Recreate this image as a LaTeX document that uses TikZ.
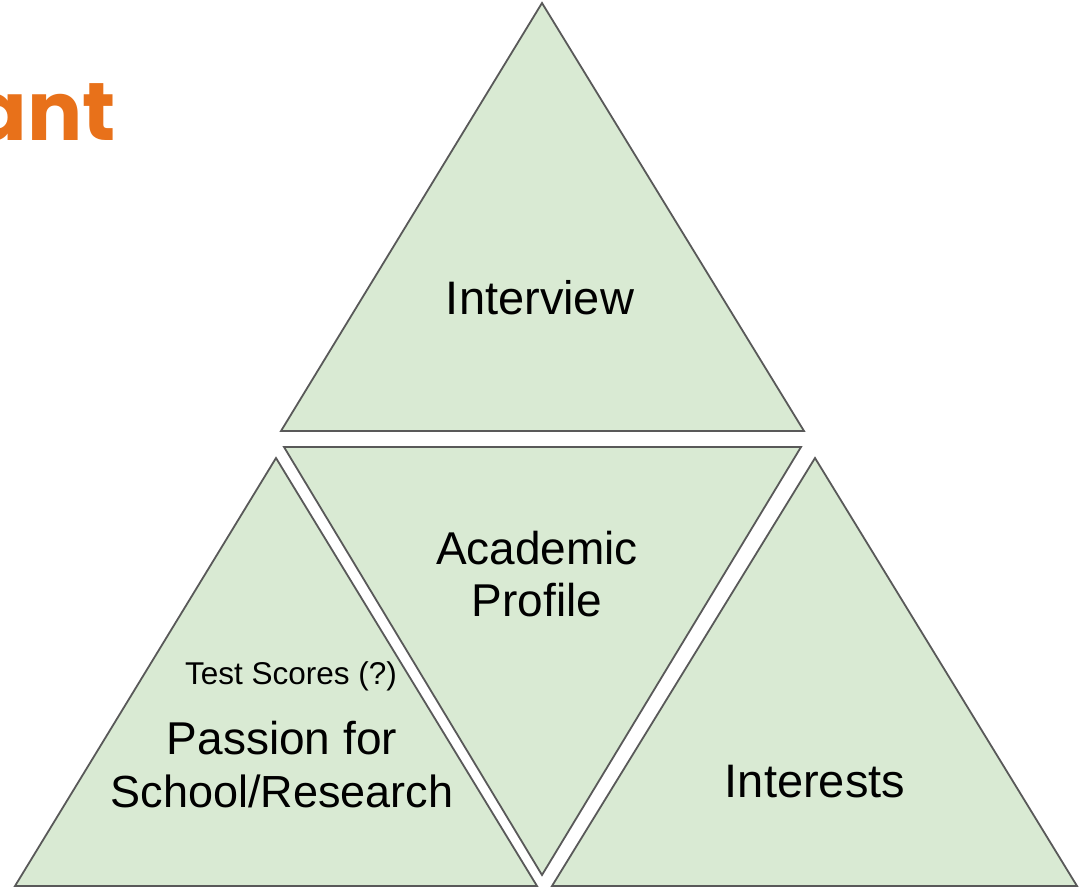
\documentclass[tikz,border=0pt]{standalone}
\usepackage{fontspec}
\setmainfont{Liberation Sans}
\newfontfamily\titlefont{Poppins}
\definecolor{triFill}{HTML}{D9EAD3}
\definecolor{triLine}{HTML}{595959}
\definecolor{titleOrange}{HTML}{E8711A}
\begin{document}
\begin{tikzpicture}[x=1pt,y=-1pt,
  tri/.style={fill=triFill,draw=triLine,line width=1.8pt,line join=miter},
  bigtext/.style={font=\fontsize{46}{53}\selectfont,align=center,inner sep=0pt,anchor=base},
  smalltext/.style={font=\fontsize{31.5}{36}\selectfont,inner sep=0pt,anchor=base}]
\clip (0,0) rectangle (1088,889);
\useasboundingbox (0,0) rectangle (1088,889);
% title fragment
\node[font=\titlefont\bfseries\fontsize{82}{90}\selectfont,text=titleOrange,
  anchor=base east,inner sep=0pt] (title) at (116,140) {ant};
% triangles
\coordinate (tA) at (542,3);   \coordinate (tL) at (281,431); \coordinate (tR) at (804,431);
\coordinate (mL) at (284,447); \coordinate (mR) at (801,447); \coordinate (mB) at (542,875);
\coordinate (lA) at (276,458); \coordinate (lL) at (15,886);  \coordinate (lR) at (537,886);
\coordinate (rA) at (815,458); \coordinate (rL) at (552,886); \coordinate (rR) at (1077,886);
\draw[tri] (tA) -- (tL) -- (tR) -- cycle;
\draw[tri] (mL) -- (mR) -- (mB) -- cycle;
\draw[tri] (lA) -- (lL) -- (lR) -- cycle;
\draw[tri] (rA) -- (rL) -- (rR) -- cycle;
% labels
\node[bigtext,font=\fontsize{47}{53}\selectfont] (interview) at (540,314) {Interview};
\node[bigtext] (academic) at (537,564) {Academic};
\node[bigtext] (profile) at (537,616) {Profile};
\node[smalltext] (test) at (291,684) {Test Scores (?)};
\node[bigtext] (passion) at (282,754) {Passion for};
\node[bigtext,font=\fontsize{45}{53}\selectfont] (school) at (282,807) {School/Research};
\node[bigtext,font=\fontsize{47}{53}\selectfont] (interests) at (815,797) {Interests};
\end{tikzpicture}
\end{document}
